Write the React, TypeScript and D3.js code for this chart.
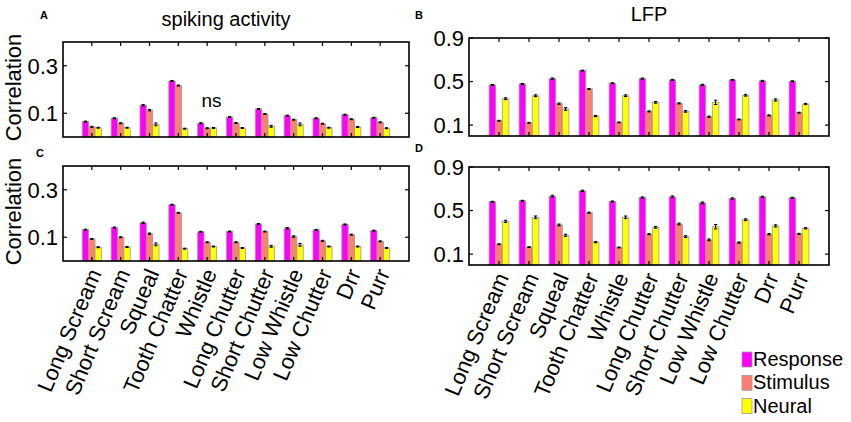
import { useEffect, useRef } from "react";
import * as d3 from "d3";

const categories = [
  "Long Scream",
  "Short Scream",
  "Squeal",
  "Tooth Chatter",
  "Whistle",
  "Long Chutter",
  "Short Chutter",
  "Low Whistle",
  "Low Chutter",
  "Drr",
  "Purr",
];

const seriesNames = ["Response", "Stimulus", "Neural"];
const seriesColors = ["#ff00ff", "#fa8072", "#ffff00"];

// A: spiking activity, top row
const spikeRespA = [0.065, 0.079, 0.134, 0.236, 0.058, 0.084, 0.118, 0.09, 0.079, 0.094, 0.081];
const spikeStimA = [0.043, 0.058, 0.113, 0.217, 0.037, 0.059, 0.097, 0.073, 0.056, 0.075, 0.062];
const spikeNeurA = [0.039, 0.039, 0.053, 0.035, 0.038, 0.038, 0.045, 0.053, 0.039, 0.042, 0.037];
const spikeErrA = [0.002, 0.002, 0.003, 0.002, 0.002, 0.002, 0.002, 0.002, 0.002, 0.002, 0.002];
const spikeNeurErrA = [0.002, 0.002, 0.006, 0.002, 0.002, 0.002, 0.004, 0.006, 0.002, 0.002, 0.002];

// B: LFP, top row
const lfpRespB = [0.469, 0.478, 0.527, 0.601, 0.485, 0.527, 0.515, 0.469, 0.515, 0.506, 0.503];
const lfpStimB = [0.14, 0.121, 0.297, 0.432, 0.125, 0.226, 0.3, 0.177, 0.152, 0.189, 0.214];
const lfpNeurB = [0.343, 0.37, 0.248, 0.183, 0.37, 0.309, 0.226, 0.309, 0.374, 0.331, 0.294];
const lfpErrB = [0.004, 0.004, 0.006, 0.004, 0.004, 0.005, 0.005, 0.006, 0.004, 0.005, 0.004];
const lfpNeurErrB = [0.008, 0.008, 0.012, 0.006, 0.008, 0.008, 0.008, 0.02, 0.008, 0.01, 0.006];

// C: spiking activity, bottom row
const spikeRespC = [0.132, 0.141, 0.161, 0.237, 0.123, 0.124, 0.156, 0.138, 0.131, 0.154, 0.128];
const spikeStimC = [0.093, 0.1, 0.115, 0.203, 0.079, 0.079, 0.124, 0.103, 0.085, 0.111, 0.083];
const spikeNeurC = [0.058, 0.059, 0.07, 0.052, 0.061, 0.055, 0.062, 0.068, 0.061, 0.061, 0.055];
const spikeErrC = [0.002, 0.002, 0.003, 0.002, 0.002, 0.002, 0.002, 0.003, 0.002, 0.002, 0.002];
const spikeNeurErrC = [0.002, 0.002, 0.006, 0.002, 0.002, 0.002, 0.004, 0.006, 0.002, 0.002, 0.002];

// D: LFP, bottom row
const lfpRespD = [0.581, 0.59, 0.632, 0.681, 0.584, 0.62, 0.626, 0.571, 0.611, 0.626, 0.617];
const lfpStimD = [0.191, 0.164, 0.368, 0.48, 0.161, 0.283, 0.377, 0.231, 0.206, 0.283, 0.286];
const lfpNeurD = [0.401, 0.438, 0.273, 0.21, 0.438, 0.346, 0.261, 0.352, 0.416, 0.359, 0.337];
const lfpErrD = [0.004, 0.004, 0.008, 0.006, 0.004, 0.005, 0.008, 0.008, 0.006, 0.006, 0.005];
const lfpNeurErrD = [0.01, 0.012, 0.01, 0.006, 0.012, 0.008, 0.008, 0.02, 0.008, 0.01, 0.006];

const spikeTicks = [0.1, 0.3];
const lfpTicks = [0.1, 0.5, 0.9];

const FONT = "'Liberation Sans', Arial, Helvetica, sans-serif";

type Panel = {
  letter: string;
  box: { x0: number; x1: number; y0: number; y1: number };
  yMax: number;
  ticks: number[];
  values: number[][];
  errors: number[][];
  title?: string;
  titleX?: number;
  titleY?: number;
  yLabel?: boolean;
  xLabels?: boolean;
  letterPos: [number, number];
};

const panels: Panel[] = [
  {
    letter: "A",
    box: { x0: 63, x1: 409, y0: 42, y1: 137 },
    yMax: 0.4,
    ticks: spikeTicks,
    values: [spikeRespA, spikeStimA, spikeNeurA],
    errors: [spikeErrA, spikeErrA, spikeNeurErrA],
    title: "spiking activity",
    titleX: 226,
    titleY: 26,
    yLabel: true,
    letterPos: [40, 19],
  },
  {
    letter: "B",
    box: { x0: 469, x1: 829, y0: 38, y1: 136 },
    yMax: 0.9,
    ticks: lfpTicks,
    values: [lfpRespB, lfpStimB, lfpNeurB],
    errors: [lfpErrB, lfpErrB, lfpNeurErrB],
    title: "LFP",
    titleX: 649,
    titleY: 21,
    letterPos: [415, 19],
  },
  {
    letter: "C",
    box: { x0: 63, x1: 409, y0: 166, y1: 261 },
    yMax: 0.4,
    ticks: spikeTicks,
    values: [spikeRespC, spikeStimC, spikeNeurC],
    errors: [spikeErrC, spikeErrC, spikeNeurErrC],
    yLabel: true,
    xLabels: true,
    letterPos: [36, 157],
  },
  {
    letter: "D",
    box: { x0: 469, x1: 829, y0: 167, y1: 265 },
    yMax: 0.9,
    ticks: lfpTicks,
    values: [lfpRespD, lfpStimD, lfpNeurD],
    errors: [lfpErrD, lfpErrD, lfpNeurErrD],
    xLabels: true,
    letterPos: [415, 152],
  },
];

const App = () => {
  const svgRef = useRef<SVGSVGElement | null>(null);

  useEffect(() => {
    const svg = d3.select(svgRef.current);
    svg.selectAll("*").remove();

    const barW = 0.22;

    panels.forEach((p) => {
      const g = svg.append("g");
      const x = d3
        .scaleLinear()
        .domain([0, categories.length + 1])
        .range([p.box.x0, p.box.x1]);
      const y = d3.scaleLinear().domain([0, p.yMax]).range([p.box.y1, p.box.y0]);

      // bars
      p.values.forEach((vals, s) => {
        const off = (s - 1) * barW;
        g.selectAll(null)
          .data(vals)
          .enter()
          .append("rect")
          .attr("x", (_, i) => x(i + 1 + off - barW / 2))
          .attr("width", x(barW) - x(0))
          .attr("y", (d) => y(d))
          .attr("height", (d) => y(0) - y(d))
          .attr("fill", seriesColors[s])
          .attr("stroke", "#9a9a9a")
          .attr("stroke-width", 0.8);

        // error bars
        const errs = p.errors[s];
        const cap = (x(barW) - x(0)) * 0.25;
        vals.forEach((d, i) => {
          const cx = x(i + 1 + off);
          const e = errs[i];
          g.append("line")
            .attr("x1", cx)
            .attr("x2", cx)
            .attr("y1", y(d - e))
            .attr("y2", y(d + e))
            .attr("stroke", "#000")
            .attr("stroke-width", 1);
          [d - e, d + e].forEach((v) => {
            g.append("line")
              .attr("x1", cx - cap)
              .attr("x2", cx + cap)
              .attr("y1", y(v))
              .attr("y2", y(v))
              .attr("stroke", "#000")
              .attr("stroke-width", 1);
          });
        });
      });

      // frame
      g.append("rect")
        .attr("x", p.box.x0)
        .attr("y", p.box.y0)
        .attr("width", p.box.x1 - p.box.x0)
        .attr("height", p.box.y1 - p.box.y0)
        .attr("fill", "none")
        .attr("stroke", "#000")
        .attr("stroke-width", 1.6);

      // x ticks (inward, top and bottom)
      categories.forEach((_, i) => {
        const tx = x(i + 1);
        g.append("line")
          .attr("x1", tx)
          .attr("x2", tx)
          .attr("y1", p.box.y0)
          .attr("y2", p.box.y0 + 4)
          .attr("stroke", "#000")
          .attr("stroke-width", 1.2);
        g.append("line")
          .attr("x1", tx)
          .attr("x2", tx)
          .attr("y1", p.box.y1)
          .attr("y2", p.box.y1 - 4)
          .attr("stroke", "#000")
          .attr("stroke-width", 1.2);
      });

      // y ticks and labels
      p.ticks.forEach((t) => {
        g.append("line")
          .attr("x1", p.box.x0)
          .attr("x2", p.box.x0 + 4)
          .attr("y1", y(t))
          .attr("y2", y(t))
          .attr("stroke", "#000")
          .attr("stroke-width", 1.2);
        g.append("line")
          .attr("x1", p.box.x1)
          .attr("x2", p.box.x1 - 4)
          .attr("y1", y(t))
          .attr("y2", y(t))
          .attr("stroke", "#000")
          .attr("stroke-width", 1.2);
        g.append("text")
          .attr("x", p.box.x0 - 5)
          .attr("y", y(t))
          .attr("dy", "0.36em")
          .attr("text-anchor", "end")
          .attr("font-family", FONT)
          .attr("font-size", 22)
          .text(d3.format(".1f")(t));
      });

      if (p.yLabel) {
        const cy = (p.box.y0 + p.box.y1) / 2 - 2;
        g.append("text")
          .attr("transform", `translate(21,${cy}) rotate(-90)`)
          .attr("text-anchor", "middle")
          .attr("font-family", FONT)
          .attr("font-size", 22)
          .text("Correlation");
      }

      if (p.xLabels) {
        categories.forEach((c, i) => {
          g.append("text")
            .attr("transform", `translate(${x(i + 1) + 3},${p.box.y1 + 9}) rotate(-67)`)
            .attr("text-anchor", "end")
            .attr("dy", "0.35em")
            .attr("font-family", FONT)
            .attr("font-size", 22)
            .text(c);
        });
      }

      if (p.title) {
        g.append("text")
          .attr("x", p.titleX!)
          .attr("y", p.titleY!)
          .attr("text-anchor", "middle")
          .attr("font-family", FONT)
          .attr("font-size", 20)
          .text(p.title);
      }

      g.append("text")
        .attr("x", p.letterPos[0])
        .attr("y", p.letterPos[1])
        .attr("font-family", FONT)
        .attr("font-weight", "bold")
        .attr("font-size", 11)
        .text(p.letter);

      if (p.letter === "A") {
        g.append("text")
          .attr("x", x(5.15))
          .attr("y", y(0.126))
          .attr("text-anchor", "middle")
          .attr("font-family", FONT)
          .attr("font-size", 19)
          .text("ns");
      }
    });

    // legend
    const legend = svg.append("g").attr("transform", "translate(742,352)");
    seriesNames.forEach((name, i) => {
      legend
        .append("rect")
        .attr("x", 0)
        .attr("y", i * 23.3)
        .attr("width", 10)
        .attr("height", 15)
        .attr("fill", seriesColors[i])
        .attr("stroke", "#9a9a9a")
        .attr("stroke-width", 0.8);
      legend
        .append("text")
        .attr("x", 11)
        .attr("y", i * 23.3 + 14)
        .attr("font-family", FONT)
        .attr("font-size", 20)
        .text(name);
    });
  }, []);

  return (
    <svg
      ref={svgRef}
      width={851}
      height={422}
      viewBox="0 0 851 422"
      style={{ position: "absolute", left: 0, top: 0, background: "#fff" }}
    />
  );
};

export default App;
